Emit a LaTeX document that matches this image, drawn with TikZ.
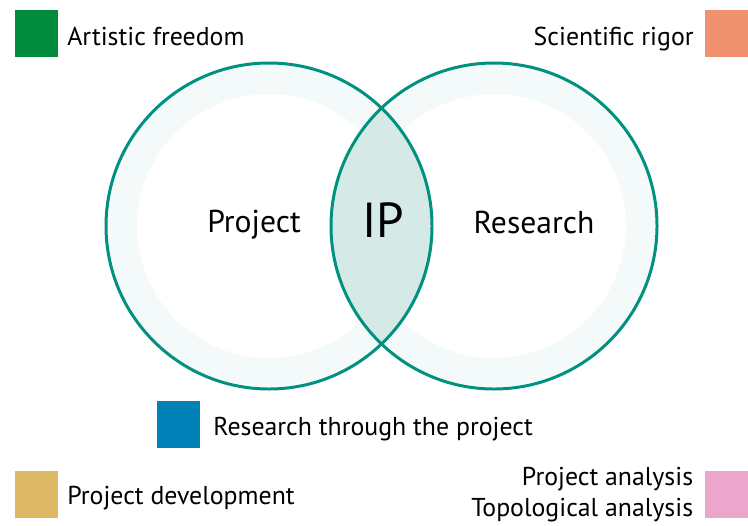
\documentclass[tikz,border=0pt]{standalone}
\usepackage{fontspec}
\setmainfont{PT Sans}

\definecolor{ringteal}{HTML}{00917F}
\definecolor{bandtint}{HTML}{F4FAFA}
\definecolor{lenstint}{HTML}{D5E9E6}
\definecolor{artgreen}{HTML}{008C3C}
\definecolor{sciorange}{HTML}{F0926F}
\definecolor{rtpblue}{HTML}{0081B8}
\definecolor{devtan}{HTML}{DDB865}
\definecolor{anapink}{HTML}{EAA6CB}

\tikzset{
	ring/.style={draw=ringteal,line width=1.7pt},
	keybox/.style={minimum width=0.86cm,minimum height=0.94cm,inner sep=0pt},
	keytext/.style={font=\fontsize{14.7}{17}\selectfont,inner sep=0pt},
	setname/.style={font=\fontsize{18}{21}\selectfont,inner sep=0pt,anchor=base},
}

\begin{document}
\begin{tikzpicture}
	\def\r{3.26}
	\useasboundingbox (0,0) rectangle (14.96,-10.5);
	\path
	(5.38,-4.52) coordinate (L)
	(9.88,-4.52) coordinate (R)
	;
	\fill[bandtint,even odd rule] (L) circle (\r) (L) circle (\r-0.62);
	\fill[bandtint,even odd rule] (R) circle (\r) (R) circle (\r-0.62);
	\begin{scope}
		\clip (L) circle (\r);
		\fill[lenstint] (R) circle (\r);
	\end{scope}
	\draw[ring] (L) circle (\r) (R) circle (\r);
	\node[setname] (project) at (5.08,-4.64) {Project};
	\node[setname] (research) at (10.68,-4.66) {Research};
	\node[setname,font=\fontsize{28}{30}\selectfont] (ip) at (7.66,-4.74) {IP};
	% legend
	\foreach \n/\c/\x/\y in {art/artgreen/0.73/-0.67,sci/sciorange/14.53/-0.67,rtp/rtpblue/3.57/-8.49,dev/devtan/0.73/-9.89,ana/anapink/14.53/-9.89}
		\node[keybox,fill=\c] (\n) at (\x,\y) {};
	\node[keytext,anchor=base west] (arttext) at (1.34,-0.90) {Artistic freedom};
	\node[keytext,anchor=base east] (scitext) at (13.88,-0.90) {Scientific rigor};
	\node[keytext,anchor=base west] (rtptext) at (4.26,-8.70) {Research through the project};
	\node[keytext,anchor=base west] (devtext) at (1.34,-10.08) {Project development};
	\node[keytext,anchor=base east] (anatext) at (13.87,-9.70) {Project analysis};
	\node[keytext,anchor=base east] (topotext) at (13.87,-10.32) {Topological analysis};
\end{tikzpicture}
\end{document}
